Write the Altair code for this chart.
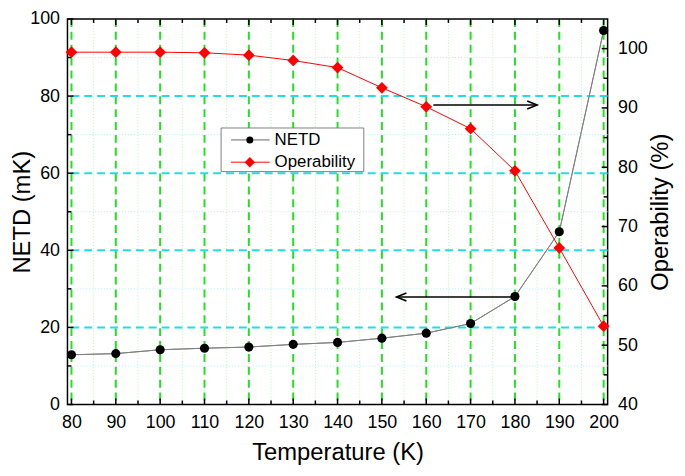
import altair as alt
import pandas as pd

# ---------------- data ----------------
temperature = [80, 90, 100, 110, 120, 130, 140, 150, 160, 170, 180, 190, 200]
netd = [12.9, 13.2, 14.2, 14.6, 14.9, 15.6, 16.1, 17.2, 18.5, 21.0, 28.0, 44.8, 97.0]
operability = [99.4, 99.4, 99.4, 99.3, 98.9, 98.0, 96.8, 93.4, 90.2, 86.5, 79.4, 66.4, 53.2]

x_ticks = [80, 90, 100, 110, 120, 130, 140, 150, 160, 170, 180, 190, 200]
x_minor = [85, 95, 105, 115, 125, 135, 145, 155, 165, 175, 185, 195]
netd_ticks = [0, 20, 40, 60, 80, 100]
netd_minor = [10, 30, 50, 70, 90]
netd_grid = [20, 40, 60, 80]
oper_ticks = [40, 50, 60, 70, 80, 90, 100]
oper_minor = [45, 55, 65, 75, 85, 95]

arrow_oper = {"x": [161.6], "x2": [185.0], "y": [90.5]}   # points to the right axis
arrow_netd = {"x": [180.0], "x2": [153.3], "y": [27.9]}   # points to the left axis
legend_labels = ["NETD", "Operability"]

# ---------------- layout / style ----------------
FONT = "Liberation Sans"
W, H = 545, 389
X_DOM = [79.1, 200.9]
xs = alt.Scale(domain=X_DOM, nice=False, zero=False)
yl = alt.Scale(domain=[0, 100], nice=False, zero=False)
yr = alt.Scale(domain=[40, 105], nice=False, zero=False)

df = pd.DataFrame({"T": temperature, "NETD": netd, "Oper": operability})
one = pd.DataFrame({"k": [0]})


def vals(v):
    return pd.DataFrame({"v": v})


x_axis = alt.Axis(values=x_ticks, title="Temperature (K)", titleX=W / 2, titleY=48,
                  titleBaseline="middle", labelPadding=9)
left_axis = alt.Axis(values=netd_ticks, title="NETD (mK)", titleAngle=270, titleX=-45,
                     titleY=H / 2, titleBaseline="middle", labelPadding=8)
right_axis = alt.Axis(orient="right", values=oper_ticks, title="Operability (%)", titleAngle=270,
                      titleX=53, titleY=H / 2, titleBaseline="middle", labelPadding=10)

# series (axis owners first)
netd_line = alt.Chart(df).mark_line(color="#808080", strokeWidth=1).encode(
    x=alt.X("T:Q", scale=xs, axis=x_axis),
    y=alt.Y("NETD:Q", scale=yl, axis=left_axis))
netd_pts = alt.Chart(df).mark_point(shape="circle", filled=True, color="black", size=85, opacity=1).encode(
    x=alt.X("T:Q", scale=xs),
    y=alt.Y("NETD:Q", scale=yl))
oper_line = alt.Chart(df).mark_line(color="#ff0000", strokeWidth=1).encode(
    x=alt.X("T:Q", scale=xs),
    y=alt.Y("Oper:Q", scale=yr, axis=right_axis))
oper_pts = alt.Chart(df).mark_point(shape="diamond", filled=True, color="#ff0000", size=140, opacity=1).encode(
    x=alt.X("T:Q", scale=xs),
    y=alt.Y("Oper:Q", scale=yr))

# grids
vgrid_minor = alt.Chart(vals(x_minor)).mark_rule(color="#b4f5b4", strokeWidth=1, strokeDash=[1, 2]).encode(
    x=alt.X("v:Q", scale=xs))
vgrid_major = alt.Chart(vals(x_ticks)).mark_rule(color="#22e022", strokeWidth=2, strokeDash=[8, 5]).encode(
    x=alt.X("v:Q", scale=xs))
hgrid_minor = alt.Chart(vals(netd_minor)).mark_rule(color="#aef2f5", strokeWidth=1, strokeDash=[1, 2]).encode(
    y=alt.Y("v:Q", scale=yl))
hgrid_major = alt.Chart(vals(netd_grid)).mark_rule(color="#22dde6", strokeWidth=2, strokeDash=[8, 5]).encode(
    y=alt.Y("v:Q", scale=yl))


def xticks(values, at, off):
    return alt.Chart(vals(values)).mark_rule(color="black", strokeWidth=1.5, y2Offset=off).encode(
        x=alt.X("v:Q", scale=xs),
        y=alt.YDatum(at, scale=yl),
        y2=alt.datum(at))


def yticks(values, scale, at, off):
    return alt.Chart(vals(values)).mark_rule(color="black", strokeWidth=1.5, x2Offset=off).encode(
        y=alt.Y("v:Q", scale=scale),
        x=alt.XDatum(at, scale=xs),
        x2=alt.datum(at))


ticks_left = [
    xticks(x_ticks, 0, -6), xticks(x_minor, 0, -4),
    xticks(x_ticks, 100, 6), xticks(x_minor, 100, 4),
    yticks(netd_ticks, yl, X_DOM[0], 6), yticks(netd_minor, yl, X_DOM[0], 4),
]
ticks_right = [
    yticks(oper_ticks, yr, X_DOM[1], -6), yticks(oper_minor, yr, X_DOM[1], -4),
]

# arrows
HEAD = "M-1,-0.4L0,0L-1,0.4"


def arrow(d, scale, angle):
    a = pd.DataFrame(d)
    rule = alt.Chart(a).mark_rule(color="black", strokeWidth=1.6).encode(
        x=alt.X("x:Q", scale=xs), x2="x2:Q",
        y=alt.Y("y:Q", scale=scale))
    head = alt.Chart(a).mark_point(shape=HEAD, filled=False, color="black", strokeWidth=1.6,
                                   size=400, angle=angle, opacity=1).encode(
        x=alt.X("x2:Q", scale=xs),
        y=alt.Y("y:Q", scale=scale))
    return [rule, head]


left = alt.layer(netd_line, vgrid_minor, vgrid_major, hgrid_minor, hgrid_major, *ticks_left,
                 *arrow(arrow_netd, yl, 180), netd_line, netd_pts)
right = alt.layer(oper_line, *ticks_right, oper_pts, *arrow(arrow_oper, yr, 0))

# legend (decoration, pixel positions inside the plot)
box = alt.Chart(one).mark_rect(fill="white", stroke="#808080", strokeWidth=1).encode(
    x=alt.value(155), x2=alt.value(299), y=alt.value(110), y2=alt.value(154))
leg = [box]
rows = [(122, "#a8a8a8", 2, "circle", "black", 50), (144.5, "#ff0000", 1, "diamond", "#ff0000", 110)]
for label, (yy, lc, lw, shp, sc, sz) in zip(legend_labels, rows):
    leg.append(alt.Chart(one).mark_rule(color=lc, strokeWidth=lw).encode(
        x=alt.value(165), x2=alt.value(204), y=alt.value(yy)))
    leg.append(alt.Chart(one).mark_point(shape=shp, filled=True, color=sc, size=sz, opacity=1).encode(
        x=alt.value(184), y=alt.value(yy)))
    leg.append(alt.Chart(pd.DataFrame({"label": [label]})).mark_text(
        align="left", baseline="middle", fontSize=17, font=FONT, color="black").encode(
        x=alt.value(209), y=alt.value(yy), text="label:N"))

chart = alt.layer(left, right, *leg).resolve_scale(y="independent").properties(
    width=W, height=H,
    padding={"left": 60, "top": 9, "right": 70, "bottom": 62},
    autosize=alt.AutoSizeParams(type="none"),
).configure_view(stroke="black", strokeWidth=1.5).configure_axis(
    labelFont=FONT, labelFontSize=18, labelColor="black",
    titleFont=FONT, titleFontSize=24, titleFontWeight="normal", titleColor="black",
    labelFlush=False, domain=False, ticks=False, tickSize=0, grid=False,
)

chart.save("out.html", embed_options={"renderer": "svg", "actions": False})
